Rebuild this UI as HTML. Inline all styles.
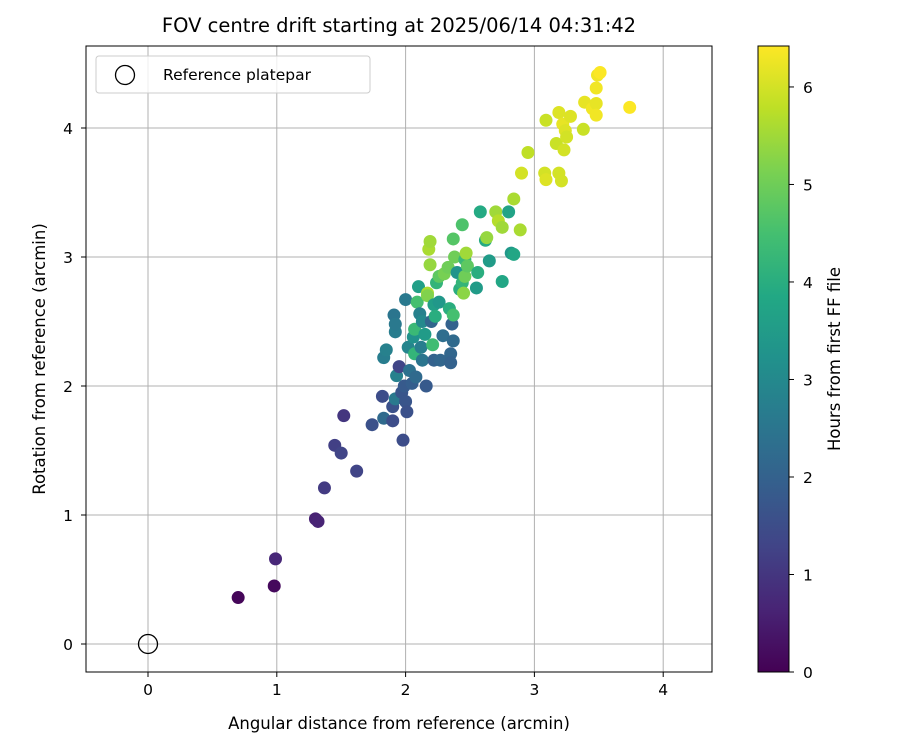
<!DOCTYPE html>
<html><head><meta charset="utf-8"><style>
body{margin:0;background:#fff;font-family:"Liberation Sans","DejaVu Sans",sans-serif}
</style></head><body>
<svg id="chart" width="900" height="750" xmlns="http://www.w3.org/2000/svg" font-family="DejaVu Sans, Liberation Sans, sans-serif">
<defs>
<linearGradient id="vir" x1="0" y1="1" x2="0" y2="0">
<stop offset="0" stop-color="#440154"/><stop offset="0.1" stop-color="#482475"/><stop offset="0.2" stop-color="#414487"/><stop offset="0.3" stop-color="#355f8d"/><stop offset="0.4" stop-color="#2a788e"/><stop offset="0.5" stop-color="#21918c"/><stop offset="0.6" stop-color="#22a884"/><stop offset="0.7" stop-color="#44bf70"/><stop offset="0.8" stop-color="#7ad151"/><stop offset="0.9" stop-color="#bddf26"/><stop offset="1" stop-color="#fde725"/>
</linearGradient>
</defs>
<text x="399" y="32" font-size="19.5" text-anchor="middle">FOV centre drift starting at 2025/06/14 04:31:42</text>
<g id="grid"></g>
<g id="ticks"></g>
<g id="points"></g>
<circle cx="148" cy="644" r="9.5" fill="none" stroke="#000" stroke-width="1.3"/>
<rect x="86" y="46" width="626" height="626" fill="none" stroke="#000" stroke-width="1"/>
<g>
<rect x="96" y="56" width="274" height="37" rx="3" fill="#fff" fill-opacity="0.8" stroke="#ccc"/>
<circle cx="125" cy="75" r="9.5" fill="none" stroke="#000" stroke-width="1.3"/>
<text x="163" y="80" font-size="15.5">Reference platepar</text>
</g>
<text x="399" y="729" font-size="16.5" text-anchor="middle">Angular distance from reference (arcmin)</text>
<text transform="translate(45,359) rotate(-90)" font-size="16.5" text-anchor="middle">Rotation from reference (arcmin)</text>
<rect x="758" y="46" width="31" height="626" fill="url(#vir)" stroke="#000" stroke-width="1"/>
<g id="cbticks"></g>
<text transform="translate(840,359) rotate(-90)" font-size="16.5" text-anchor="middle">Hours from first FF file</text>
</svg>
<script>
const xs=[0.70,0.98,0.99,1.30,1.32,1.37,1.45,1.50,1.52,1.62,1.74,1.82,1.83,1.83,1.85,1.90,1.90,1.92,1.93,1.92,1.91,1.92,1.95,1.97,1.98,1.99,2.00,2.00,2.01,2.02,2.03,2.05,2.06,2.07,2.07,2.08,2.09,2.10,2.11,2.12,2.13,2.13,2.15,2.16,2.17,2.17,2.18,2.19,2.19,2.20,2.21,2.22,2.22,2.23,2.24,2.26,2.26,2.27,2.29,2.30,2.33,2.34,2.35,2.35,2.36,2.37,2.37,2.37,2.38,2.40,2.42,2.44,2.44,2.45,2.46,2.46,2.47,2.48,2.55,2.56,2.58,2.62,2.63,2.65,2.70,2.72,2.75,2.75,2.80,2.82,2.84,2.84,2.89,2.90,2.95,3.08,3.09,3.09,3.17,3.19,3.19,3.21,3.22,3.23,3.24,3.25,3.28,3.38,3.39,3.45,3.48,3.48,3.48,3.49,3.51,3.74];
const ys=[0.36,0.45,0.66,0.97,0.95,1.21,1.54,1.48,1.77,1.34,1.70,1.92,1.75,2.22,2.28,1.73,1.84,1.90,2.08,2.42,2.55,2.48,2.15,1.95,1.58,2.00,1.88,2.67,1.80,2.30,2.12,2.02,2.38,2.25,2.44,2.07,2.65,2.77,2.56,2.30,2.20,2.50,2.40,2.00,2.72,2.70,3.06,3.12,2.94,2.50,2.32,2.20,2.63,2.54,2.80,2.65,2.85,2.20,2.39,2.87,2.92,2.60,2.25,2.18,2.48,2.35,3.14,2.55,3.00,2.88,2.75,2.80,3.25,2.72,2.98,2.85,3.03,2.93,2.76,2.88,3.35,3.13,3.15,2.97,3.35,3.28,3.23,2.81,3.35,3.03,3.02,3.45,3.21,3.65,3.81,3.65,3.60,4.06,3.88,3.65,4.12,3.59,4.03,3.83,3.98,3.93,4.09,3.99,4.20,4.15,4.19,4.10,4.31,4.41,4.43,4.16];
const hours=[0.1,0.15,0.7,0.6,0.65,1.1,1.2,1.3,1.0,1.3,1.6,1.5,2.2,2.7,2.8,1.5,1.6,2.6,2.8,2.7,2.5,2.6,1.3,1.7,1.5,1.8,1.7,2.6,1.6,2.9,2.4,1.9,3.2,4.2,4.3,2.2,4.5,3.6,2.8,2.7,2.5,3.0,3.5,1.8,5.6,5.2,5.6,5.5,5.4,2.1,4.4,2.0,3.6,4.0,4.2,3.4,4.8,2.1,2.3,5.1,5.0,4.0,2.1,2.0,2.0,2.2,4.7,4.5,5.0,3.3,4.0,4.2,4.6,5.3,4.3,5.0,5.5,4.8,3.5,4.0,3.9,3.9,5.4,3.5,5.5,5.7,5.5,3.8,3.7,3.4,3.8,5.6,5.6,6.0,5.8,6.0,6.1,5.9,5.9,6.0,6.1,6.0,6.2,6.0,6.1,6.0,6.1,5.9,6.2,6.3,6.2,6.3,6.3,6.3,6.4,6.4];
const xTicks=[0,1,2,3,4], yTicks=[0,1,2,3,4], cTicks=[0,1,2,3,4,5,6];
const HMAX=6.42;
const X=v=>148+v*128.8, Y=v=>644-v*129, C=v=>672-v*(626/HMAX);
const vir=["#440154","#482475","#414487","#355f8d","#2a788e","#21918c","#22a884","#44bf70","#7ad151","#bddf26","#fde725"];
function hx(s){return [1,3,5].map(i=>parseInt(s.substr(i,2),16));}
function col(h){let t=Math.max(0,Math.min(1,h/HMAX))*10,i=Math.min(9,Math.floor(t)),f=t-i;const a=hx(vir[i]),b=hx(vir[i+1]);return "rgb("+a.map((v,k)=>Math.round(v+(b[k]-v)*f)).join(",")+")";}
const NS="http://www.w3.org/2000/svg";
function mk(tag,attrs,parent){const e=document.createElementNS(NS,tag);for(const k in attrs)e.setAttribute(k,attrs[k]);parent.appendChild(e);return e;}
const g=document.getElementById('grid'),tk=document.getElementById('ticks'),pts=document.getElementById('points'),cb=document.getElementById('cbticks');
xTicks.forEach(v=>{const x=X(v);
const l=mk('line',{x1:x,x2:x,y1:46,y2:672,stroke:'#b0b0b0','stroke-width':1},g);


mk('line',{x1:x,x2:x,y1:672,y2:677,stroke:'#000'},tk);
const t=mk('text',{x:x,y:695,'font-size':15.5,'text-anchor':'middle'},tk);t.textContent=v;

});
yTicks.forEach(v=>{const y=Y(v);
const l=mk('line',{x1:86,x2:712,y1:y,y2:y,stroke:'#b0b0b0','stroke-width':1},g);


mk('line',{x1:81,x2:86,y1:y,y2:y,stroke:'#000'},tk);
const t=mk('text',{x:73,y:y+6,'font-size':15.5,'text-anchor':'end'},tk);t.textContent=v;

});
xs.forEach((x,i)=>{const c=mk('circle',{cx:X(x),cy:Y(ys[i]),r:6.5,fill:col(hours[i])},pts);

});
cTicks.forEach(v=>{const y=C(v);
mk('line',{x1:789,x2:794,y1:y,y2:y,stroke:'#000'},cb);
const t=mk('text',{x:803,y:y+6,'font-size':15.5},cb);t.textContent=v;

});
</script>
</body></html>
